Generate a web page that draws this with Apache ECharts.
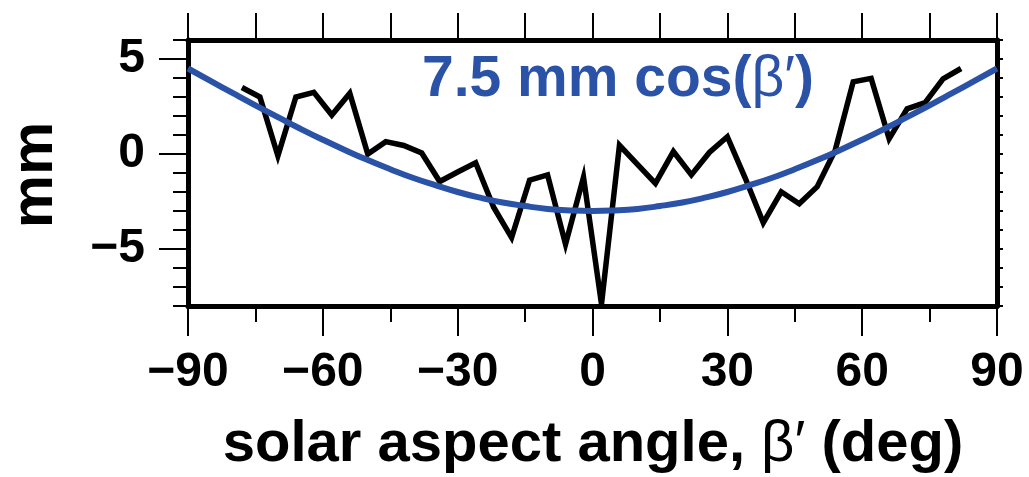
<!DOCTYPE html>
<html>
<head>
<meta charset="utf-8">
<script src="https://cdn.jsdelivr.net/npm/echarts@6/dist/echarts.min.js"></script>
<style>
  html, body { margin: 0; padding: 0; background: #ffffff; }
  #chart { width: 1029px; height: 477px; }
</style>
</head>
<body>
<div id="chart"></div>
<script>
// Measured offset (mm) versus solar aspect angle, sampled every 4 degrees
const betaDeg = [-78, -74, -70, -66, -62, -58, -54, -50, -46, -42, -38, -34, -30, -26, -22, -18, -14, -10, -6, -2,
                 2, 6, 10, 14, 18, 22, 26, 30, 34, 38, 42, 46, 50, 54, 58, 62, 66, 70, 74, 78, 82];
const offsetMm = [3.5, 3.0, -0.1, 3.0, 3.25, 2.05, 3.2, 0.0, 0.65, 0.45, 0.05, -1.45, -0.95, -0.46, -2.8, -4.4, -1.38, -1.1, -4.75, -1.22,
                  -7.9, 0.46, -0.55, -1.55, 0.13, -1.1, 0.08, 0.91, -1.28, -3.62, -1.99, -2.62, -1.72, 0.2, 3.8, 3.98, 0.8, 2.38, 2.7, 3.95, 4.5];

// Reference curve, 7.5 mm cos(beta'), sampled every 5 degrees
const fitDeg = [-90, -85, -80, -75, -70, -65, -60, -55, -50, -45, -40, -35, -30, -25, -20, -15, -10, -5, 0,
                5, 10, 15, 20, 25, 30, 35, 40, 45, 50, 55, 60, 65, 70, 75, 80, 85, 90];
const fitMm = [4.5, 3.85, 3.2, 2.56, 1.94, 1.33, 0.75, 0.2, -0.32, -0.8, -1.25, -1.64, -2.0, -2.3, -2.55, -2.74, -2.89, -2.97, -3.0,
               -2.97, -2.89, -2.74, -2.55, -2.3, -2.0, -1.64, -1.25, -0.8, -0.32, 0.2, 0.75, 1.33, 1.94, 2.56, 3.2, 3.85, 4.5];

const xTickLabels = [-90, -60, -30, 0, 30, 60, 90];
const yTickLabels = [-5, 0, 5];

const FONT = "'Liberation Sans', Arial, Helvetica, sans-serif";
const BLUE = '#2a52a6';

const minus = v => String(v).replace('-', '\u2212');

const chart = echarts.init(document.getElementById('chart'), null, { renderer: 'canvas' });

const axisLine = { show: true, onZero: false, lineStyle: { color: '#000', width: 5 } };
const tickStyle = { color: '#000', width: 2 };

chart.setOption({
  animation: false,
  backgroundColor: '#ffffff',
  grid: { left: 188, right: 32, top: 40, bottom: 171, containLabel: false },
  xAxis: [
    {
      type: 'value', position: 'bottom', min: -90, max: 90, interval: 30,
      axisLine: axisLine,
      axisTick: { show: true, length: 30, lineStyle: tickStyle },
      minorTick: { show: true, splitNumber: 2, length: 16, lineStyle: tickStyle },
      splitLine: { show: false },
      axisLabel: {
        customValues: xTickLabels, margin: 43, color: '#000',
        fontFamily: FONT, fontWeight: 'bold', fontSize: 48, formatter: minus
      }
    },
    {
      type: 'value', position: 'top', min: -90, max: 90, interval: 15,
      axisLine: axisLine,
      axisTick: { show: true, length: 27, lineStyle: tickStyle },
      splitLine: { show: false },
      axisLabel: { show: false }
    }
  ],
  yAxis: [
    {
      type: 'value', position: 'left', min: -8, max: 6, interval: 1,
      axisLine: axisLine,
      axisTick: { show: true, length: 15, lineStyle: tickStyle },
      splitLine: { show: false },
      axisLabel: { show: false }
    },
    {
      type: 'value', position: 'left', min: -8, max: 6,
      axisLine: { show: false, onZero: false },
      axisTick: { show: true, customValues: yTickLabels, length: 29, lineStyle: tickStyle },
      splitLine: { show: false },
      axisLabel: {
        customValues: yTickLabels, margin: 43, color: '#000',
        fontFamily: FONT, fontWeight: 'bold', fontSize: 48, formatter: minus
      }
    },
    {
      type: 'value', position: 'right', min: -8, max: 6, interval: 1,
      axisLine: axisLine,
      axisTick: { show: true, length: 6, lineStyle: tickStyle },
      splitLine: { show: false },
      axisLabel: { show: false }
    }
  ],
  series: [
    {
      name: 'offset', type: 'line', xAxisIndex: 0, yAxisIndex: 0,
      data: betaDeg.map((b, i) => [b, offsetMm[i]]),
      showSymbol: false, symbol: 'none',
      lineStyle: { color: '#000', width: 5.5, join: 'miter' },
      clip: true, z: 3
    },
    {
      name: '7.5 mm cos', type: 'line', xAxisIndex: 0, yAxisIndex: 0,
      data: fitDeg.map((b, i) => [b, fitMm[i]]),
      smooth: true, showSymbol: false, symbol: 'none',
      lineStyle: { color: BLUE, width: 6 },
      clip: true, z: 4
    }
  ],
  graphic: [
    {
      type: 'text', x: 618, y: 80, z: 10,
      style: {
        text: '{b|7.5 mm cos(}{n|\u03b2\u2032}{b|)}',
        align: 'center', verticalAlign: 'middle',
        rich: {
          b: { fontFamily: FONT, fontWeight: 'bold', fontSize: 57, fill: BLUE },
          n: { fontFamily: FONT, fontWeight: 'normal', fontSize: 57, fill: BLUE }
        }
      }
    },
    {
      type: 'text', x: 593, y: 445, z: 10,
      style: {
        text: '{b|solar aspect angle, }{n|\u03b2\u2032}{b| (deg)}',
        align: 'center', verticalAlign: 'middle',
        rich: {
          b: { fontFamily: FONT, fontWeight: 'bold', fontSize: 58, fill: '#000' },
          n: { fontFamily: FONT, fontWeight: 'normal', fontSize: 58, fill: '#000' }
        }
      }
    },
    {
      type: 'text', x: 35, y: 175, rotation: Math.PI / 2, z: 10,
      style: {
        text: 'mm', align: 'center', verticalAlign: 'middle',
        fontFamily: FONT, fontWeight: 'bold', fontSize: 60, fill: '#000'
      }
    }
  ]
});
</script>
</body>
</html>
